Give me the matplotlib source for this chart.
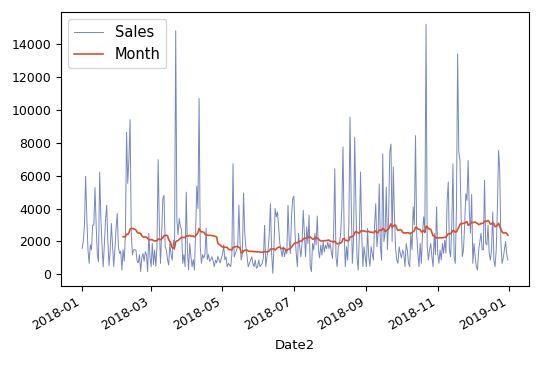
import matplotlib
matplotlib.use("Agg")
import matplotlib.pyplot as plt
import matplotlib.dates as mdates
import numpy as np
import pandas as pd

start_date = "2018-01-01"
sales = [
    1580, 2000, 3000, 5960, 3500, 1500, 670, 1800, 1500, 3000,
    2990, 5280, 3000, 1200, 770, 6220, 3500, 1800, 470, 1800,
    3300, 4200, 2000, 530, 1500, 3090, 1800, 470, 1500, 2800,
    3700, 1700, 1280, 1400, 270, 1500, 800, 2500, 8640, 5530,
    7000, 9400, 2500, 1180, 1500, 1500, 1480, 800, 700, 1200,
    170, 1000, 1280, 800, 1380, 1200, 170, 2490, 1070, 470,
    1880, 600, 1480, 500, 1700, 6970, 3000, 670, 2500, 4600,
    4800, 1680, 1500, 900, 570, 1880, 1200, 870, 2080, 1500,
    14800, 3300, 2400, 3400, 2900, 2700, 670, 1200, 470, 5000,
    1500, 270, 1880, 1070, 470, 900, 270, 2500, 5370, 4000,
    10700, 1680, 670, 1200, 1000, 1200, 2800, 900, 1200, 800,
    900, 1070, 800, 470, 870, 700, 1100, 900, 700, 1000,
    1200, 1800, 900, 1070, 470, 670, 570, 470, 1200, 6720,
    1070, 1270, 1480, 1700, 4200, 1880, 870, 1270, 4950, 2500,
    1680, 1070, 470, 670, 870, 1070, 670, 470, 870, 370,
    470, 870, 470, 570, 670, 1070, 2990, 470, 1070, 1480,
    2490, 4300, 1270, 60, 1680, 4000, 3500, 3800, 2890, 1880,
    1480, 1070, 1680, 1070, 1480, 1270, 4200, 2080, 1270, 3500,
    4600, 4750, 2490, 1270, 470, 2490, 1680, 1070, 1880, 3900,
    2490, 1070, 2890, 1880, 3600, 470, 170, 1880, 1480, 2500,
    1800, 3550, 1500, 1000, 1780, 1170, 1980, 1370, 1780, 1570,
    1980, 1570, 1890, 1370, 970, 2500, 6420, 1070, 470, 1680,
    1880, 2500, 4000, 7740, 2490, 470, 1680, 870, 3000, 9550,
    4500, 670, 2000, 8340, 4380, 1000, 270, 2400, 6220, 2500,
    470, 1680, 1070, 470, 2800, 1070, 500, 1680, 1270, 870,
    3000, 4300, 1680, 2500, 5500, 1680, 870, 7330, 2000, 2490,
    5300, 1500, 3500, 7420, 7920, 2000, 6520, 3500, 1500, 870,
    670, 1680, 1270, 1000, 1480, 1270, 470, 1880, 1480, 670,
    470, 2490, 1500, 4100, 3000, 8430, 2490, 1270, 470, 1880,
    670, 2500, 3500, 2690, 15200, 1700, 870, 1480, 1880, 1070,
    470, 2490, 1200, 4100, 1270, 670, 1480, 870, 1880, 1270,
    2080, 1300, 4450, 5610, 1480, 1070, 3000, 6720, 1070, 670,
    4000, 13400, 7420, 6920, 3500, 1070, 1480, 3000, 4900, 4500,
    6920, 3800, 2500, 4850, 670, 1880, 1070, 470, 270, 1500,
    2000, 2500, 1500, 1500, 5720, 1880, 1800, 3000, 1270, 870,
    1500, 3790, 870, 470, 1500, 4000, 7530, 6320, 1880, 670,
    1000, 1500, 2000, 1200, 870,
]
window = 36
series_names = ["Sales", "Month"]
x_label = "Date2"

dates = pd.date_range(start_date, periods=len(sales), freq="D")
df = pd.DataFrame({"Sales": sales}, index=dates)
df["Month"] = df["Sales"].rolling(window).mean()

fig = plt.figure(figsize=(5.53, 3.67), dpi=100)
ax = fig.add_axes([0.110, 0.221, 0.847, 0.747])

ax.plot(df.index, df["Sales"], color="#4a5fa8", lw=0.7, alpha=0.75, label=series_names[0])
ax.plot(df.index, df["Month"], color="#d9502b", lw=1.2, label=series_names[1])

ax.xaxis.set_major_locator(mdates.MonthLocator(bymonth=[1, 3, 5, 7, 9, 11]))
ax.xaxis.set_major_formatter(mdates.DateFormatter("%Y-%m"))
ax.xaxis.set_minor_locator(mdates.MonthLocator())
ax.tick_params(axis="x", which="minor", length=0)
ax.set_yticks([0, 2000, 4000, 6000, 8000, 10000, 12000, 14000])
for lab in ax.get_xticklabels():
    lab.set_rotation(30)
    lab.set_ha("right")
ax.tick_params(labelsize=9)
ax.set_xlabel(x_label, fontsize=9.5)
ax.legend(loc="upper left", fontsize=10.5)

fig.savefig("out.png", dpi=100)
